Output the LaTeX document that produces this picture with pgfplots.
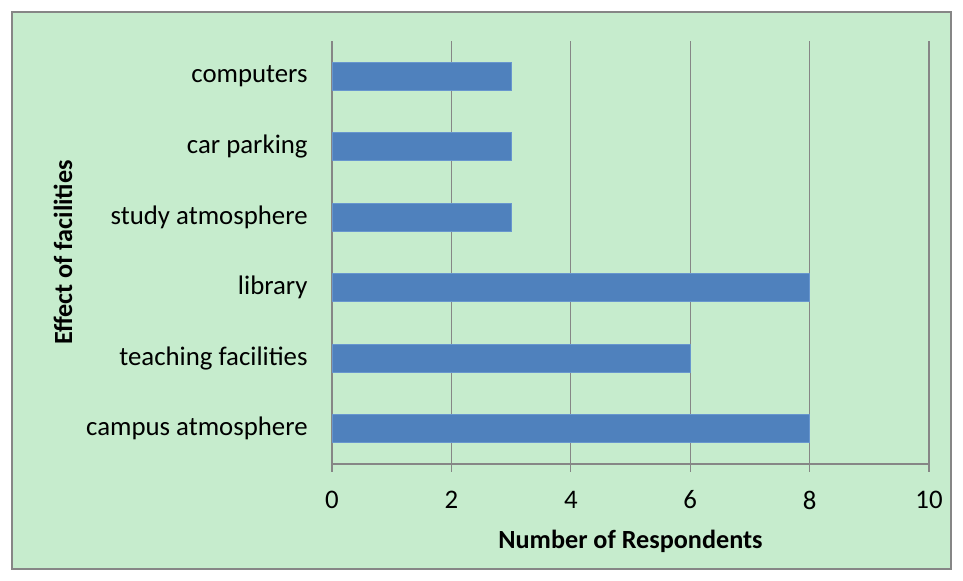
\documentclass[border=0pt]{standalone}
\usepackage{pgfplots}
\pgfplotsset{compat=1.18}
\usepackage{fontspec}
\setmainfont{Carlito}
\definecolor{bgG}{RGB}{198,236,205}
\definecolor{barB}{RGB}{79,129,189}
\definecolor{barE}{RGB}{104,150,206}
\definecolor{gridG}{RGB}{134,134,134}
\begin{document}
\begin{tikzpicture}[x=1pt,y=1pt]
\fill[white] (0,0) rectangle (481.5,290.5);
\draw[gridG, line width=0.6pt, fill=bgG] (6,6) rectangle (475.5,284.5);
\begin{axis}[
  at={(166pt,58.5pt)}, anchor=south west,
  scale only axis, width=298.5pt, height=211.5pt,
  xbar, bar width=0.4,
  xmin=0, xmax=10, ymin=-0.5, ymax=5.5,
  xtick={0,2,4,6,8,10},
  ytick={0,1,2,3,4,5},
  yticklabels={campus atmosphere,teaching facilities,library,study atmosphere,car parking,computers},
  axis lines*=left,
  axis line style={gridG, line width=0.6pt},
  xmajorgrids, grid style={gridG, line width=0.6pt},
  x tick style={gridG, line width=0.6pt},
  y tick style={draw=none},
  tick align=outside,
  major tick length=4pt,
  /pgf/number format/assume math mode=true,
  tick label style={font=\fontsize{13.4}{16}\selectfont, inner sep=0pt},
  yticklabel style={anchor=east, xshift=-8pt},
  xticklabel style={anchor=center, yshift=-14pt},
  xlabel={Number of Respondents},
  ylabel={Effect of facilities},
  label style={font=\bfseries\fontsize{13.1}{15.7}\selectfont},
  xlabel style={at={(axis description cs:0.5,-0.182)}, anchor=center},
  ylabel style={at={(axis description cs:-0.4506,0.5)}, anchor=center, rotate=0},
]
\addplot[fill=barB, draw=barE, line width=0.4pt] coordinates {(8,0) (6,1) (8,2) (3,3) (3,4) (3,5)};
\end{axis}
\end{tikzpicture}
\end{document}
